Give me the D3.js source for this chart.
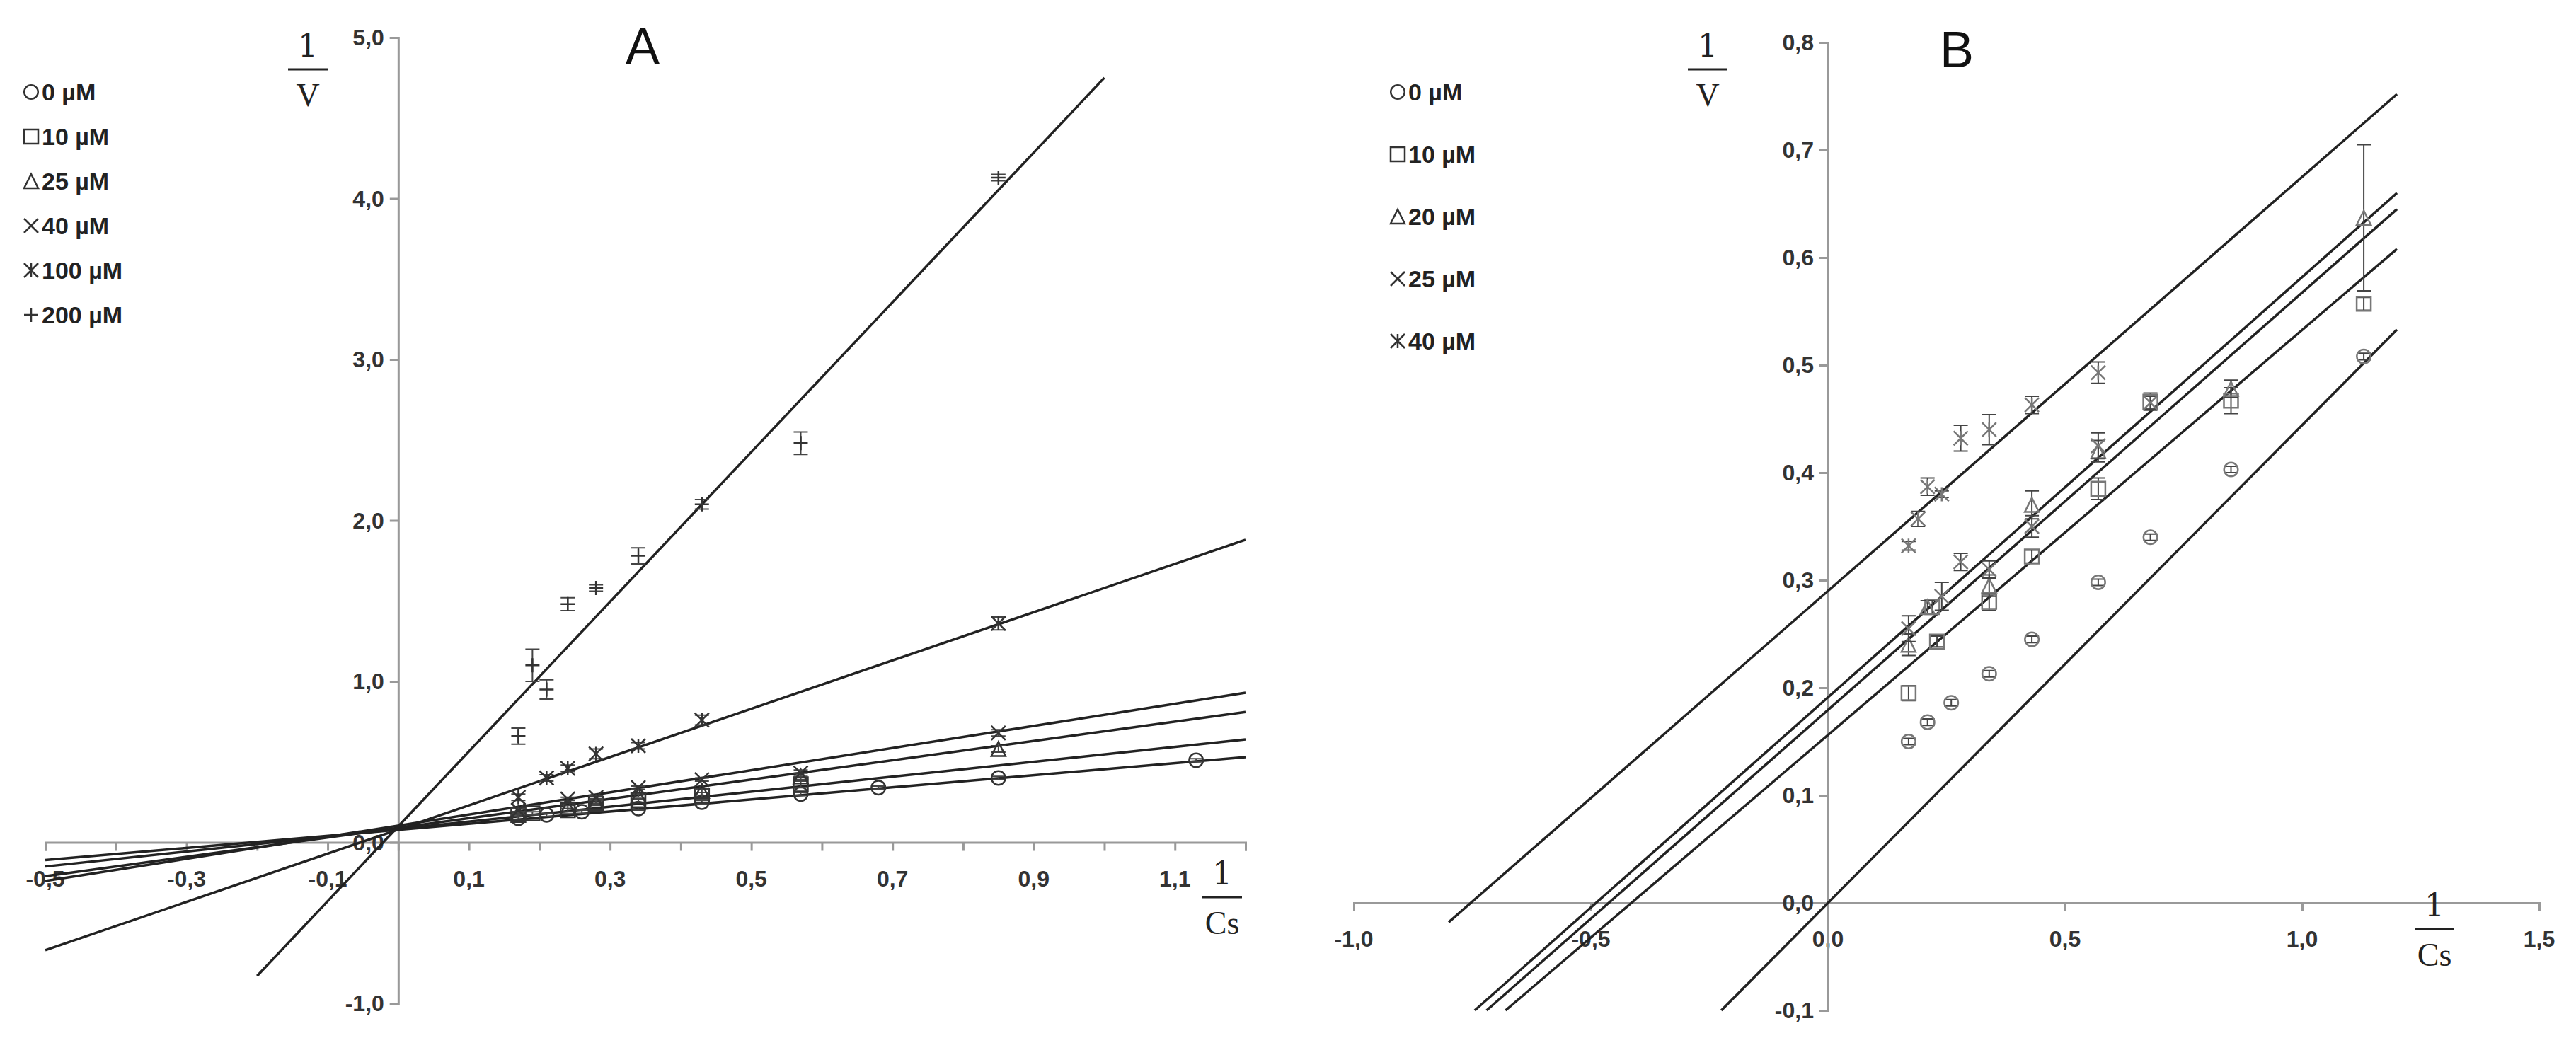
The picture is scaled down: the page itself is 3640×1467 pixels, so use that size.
<!DOCTYPE html>
<html><head><meta charset="utf-8">
<script src="https://cdnjs.cloudflare.com/ajax/libs/d3/7.8.5/d3.min.js"></script>
<style>body{margin:0;background:#fff}svg{display:block}</style>
</head><body><svg id="chart" width="3640" height="1467"></svg>
<script>
// Panel A data (x = 1/Cs, y = 1/V, e = error)
const seriesA = [
  {name: "0 µM", sym: "circle", pts: [[0.17,0.15],[0.21,0.17],[0.26,0.19],[0.34,0.21],[0.43,0.25],[0.57,0.30],[0.68,0.34],[0.85,0.40],[1.13,0.51]]},
  {name: "10 µM", sym: "square", pts: [[0.17,0.17],[0.19,0.18],[0.24,0.20],[0.28,0.24],[0.34,0.26],[0.43,0.29],[0.57,0.36]]},
  {name: "25 µM", sym: "triangle", pts: [[0.17,0.18],[0.24,0.22],[0.28,0.25],[0.34,0.29],[0.43,0.32],[0.57,0.41],[0.85,0.58]]},
  {name: "40 µM", sym: "x", pts: [[0.17,0.20],[0.24,0.27],[0.28,0.28],[0.34,0.34],[0.43,0.39],[0.57,0.43],[0.85,0.68]]},
  {name: "100 µM", sym: "star", pts: [[0.17,0.28],[0.21,0.40],[0.24,0.46],[0.28,0.55],[0.34,0.60],[0.43,0.76],[0.85,1.36]]},
  {name: "200 µM", sym: "plus", pts: [[0.17,0.66],[0.19,1.10],[0.21,0.95],[0.24,1.48],[0.28,1.58],[0.34,1.78],[0.43,2.10],[0.57,2.48],[0.85,4.13]]}
];
const errA = [
  [0.01,0.01,0.01,0.01,0.01,0.01,0.01,0.01,0.01],
  [0.01,0.01,0.01,0.01,0.01,0.02,0.02],
  [0.01,0.01,0.01,0.01,0.01,0.02,0.02],
  [0.01,0.01,0.01,0.01,0.01,0.02,0.02],
  [0.02,0.02,0.02,0.03,0.02,0.03,0.04],
  [0.05,0.10,0.06,0.04,0.02,0.05,0.03,0.07,0.02]
];
// fitted lines [x0, y0, x1, y1]
const linesA = [[-0.5,-0.11,1.2,0.53],[-0.5,-0.15,1.2,0.64],[-0.5,-0.21,1.2,0.81],[-0.5,-0.24,1.2,0.93],[-0.5,-0.67,1.2,1.88],[-0.2,-0.83,1.0,4.75]];
const xTicksA = [-0.5,-0.3,-0.1,0.1,0.3,0.5,0.7,0.9,1.1];
const yTicksA = [-1,0,1,2,3,4,5];

// Panel B data
const seriesB = [
  {name: "0 µM", sym: "circle", pts: [[0.17,0.150],[0.21,0.168],[0.26,0.186],[0.34,0.213],[0.43,0.245],[0.57,0.298],[0.68,0.340],[0.85,0.403],[1.13,0.508]]},
  {name: "10 µM", sym: "square", pts: [[0.17,0.195],[0.22,0.275],[0.23,0.243],[0.34,0.280],[0.43,0.322],[0.57,0.385],[0.68,0.466],[0.85,0.467],[1.13,0.557]]},
  {name: "20 µM", sym: "triangle", pts: [[0.17,0.240],[0.21,0.275],[0.34,0.295],[0.43,0.370],[0.57,0.420],[0.85,0.478],[1.13,0.637]]},
  {name: "25 µM", sym: "x", pts: [[0.17,0.255],[0.24,0.285],[0.28,0.317],[0.34,0.310],[0.43,0.350],[0.57,0.425],[0.68,0.465]]},
  {name: "40 µM", sym: "star", pts: [[0.17,0.332],[0.19,0.357],[0.21,0.387],[0.24,0.380],[0.28,0.432],[0.34,0.440],[0.43,0.463],[0.57,0.493]]}
];
const errB = [
  [0.003,0.003,0.003,0.003,0.003,0.003,0.003,0.003,0.003],
  [0.007,0.006,0.005,0.008,0.006,0.010,0.008,0.012,0.006],
  [0.010,0.006,0.010,0.013,0.010,0.008,0.068],
  [0.012,0.013,0.008,0.008,0.010,0.012,0.006],
  [0.004,0.007,0.008,0.003,0.012,0.014,0.008,0.010]
];
const linesB = [[-0.225,-0.1,1.2,0.533],[-0.68,-0.1,1.2,0.608],[-0.72,-0.1,1.2,0.645],[-0.745,-0.1,1.2,0.66],[-0.80,-0.018,1.2,0.752]];
const xTicksB = [-1.0,-0.5,0.0,0.5,1.0,1.5];
const yTicksB = [-0.1,0,0.1,0.2,0.3,0.4,0.5,0.6,0.7,0.8];

const svg = d3.select("#chart");
const fmt = (d, p) => d.toFixed(p).replace(".", ",");
const font = "Arial, 'Liberation Sans', sans-serif";

function symbolPath(sym, s) {
  const h = s / 2;
  if (sym === "circle") return d3.symbol(d3.symbolCircle, s * s * 0.75)();
  if (sym === "square") return `M${-h},${-h}H${h}V${h}H${-h}Z`;
  if (sym === "triangle") return `M0,${-h}L${h},${h}L${-h},${h}Z`;
  if (sym === "x") return `M${-h},${-h}L${h},${h}M${-h},${h}L${h},${-h}`;
  if (sym === "plus") return `M${-h},0H${h}M0,${-h}V${h}`;
  return `M${-h},${-h}L${h},${h}M${-h},${h}L${h},${-h}M0,${-h}V${h}`;
}

function panel(cfg) {
  const g = svg.append("g");
  const x = d3.scaleLinear().domain(cfg.xd).range(cfg.xr);
  const y = d3.scaleLinear().domain(cfg.yd).range(cfg.yr);
  const axCol = "#999";

  // x axis along y=0
  const xa = g.append("g").attr("transform", `translate(0,${y(0)})`)
    .call(d3.axisBottom(x).tickValues(cfg.xTickMarks).tickSize(12).tickFormat(""));
  xa.select(".domain").attr("stroke", axCol).attr("stroke-width", 3);
  xa.selectAll(".tick line").attr("stroke", axCol).attr("stroke-width", 3);
  g.selectAll(".xl").data(cfg.xTicks).join("text")
    .attr("x", d => x(d)).attr("y", y(0) + 62).attr("text-anchor", "middle")
    .attr("font-family", font).attr("font-weight", "bold").attr("font-size", 32).attr("fill", "#333")
    .text(d => fmt(d, 1));

  // y axis along x=0
  const ya = g.append("g").attr("transform", `translate(${x(0)},0)`)
    .call(d3.axisLeft(y).tickValues(cfg.yTicks).tickSize(12).tickFormat(""));
  ya.select(".domain").attr("stroke", axCol).attr("stroke-width", 3);
  ya.selectAll(".tick line").attr("stroke", axCol).attr("stroke-width", 3);
  g.selectAll(".yl").data(cfg.yTicks).join("text")
    .attr("x", x(0) - 20).attr("y", d => y(d) + 11).attr("text-anchor", "end")
    .attr("font-family", font).attr("font-weight", "bold").attr("font-size", 32).attr("fill", "#333")
    .text(d => fmt(d, 1));

  // fit lines
  g.selectAll(".fit").data(cfg.lines).join("line")
    .attr("x1", d => x(d[0])).attr("y1", d => y(d[1])).attr("x2", d => x(d[2])).attr("y2", d => y(d[3]))
    .attr("stroke", "#222").attr("stroke-width", 3.5);

  // points with error bars
  cfg.series.forEach((s, i) => {
    const sg = g.append("g");
    s.pts.forEach((p, j) => {
      const e = cfg.err[i][j];
      const px = x(p[0]);
      sg.append("path")
        .attr("d", `M${px},${y(p[1] - e)}V${y(p[1] + e)}M${px - 10},${y(p[1] - e)}H${px + 10}M${px - 10},${y(p[1] + e)}H${px + 10}`)
        .attr("stroke", "#444").attr("stroke-width", 2).attr("fill", "none");
      sg.append("path").attr("transform", `translate(${px},${y(p[1])})`)
        .attr("d", symbolPath(s.sym, 20))
        .attr("fill", "none").attr("stroke", cfg.markCol).attr("stroke-width", 2.5);
    });
  });

  // legend
  cfg.series.forEach((s, i) => {
    const ly = cfg.legY + i * cfg.legStep;
    g.append("path").attr("transform", `translate(${cfg.legX},${ly})`)
      .attr("d", symbolPath(s.sym, 20)).attr("fill", "none").attr("stroke", "#333").attr("stroke-width", 2.5);
    g.append("text").attr("x", cfg.legX + 15).attr("y", ly + 12)
      .attr("font-family", font).attr("font-weight", "bold").attr("font-size", 34).attr("fill", "#222").text(s.name);
  });

  // fraction labels
  const frac = (fx, fy, den) => {
    g.append("text").attr("x", fx).attr("y", fy).attr("text-anchor", "middle")
      .attr("font-family", "'DejaVu Serif', 'Liberation Serif', serif").attr("font-size", 44).attr("fill", "#222").text("1");
    g.append("line").attr("x1", fx - 28).attr("x2", fx + 28).attr("y1", fy + 18).attr("y2", fy + 18)
      .attr("stroke", "#222").attr("stroke-width", 3);
    g.append("text").attr("x", fx).attr("y", fy + 70).attr("text-anchor", "middle")
      .attr("font-family", "'Liberation Serif', serif").attr("font-size", 46).attr("fill", "#222").text(den);
  };
  frac(cfg.vLab[0], cfg.vLab[1], "V");
  frac(cfg.cLab[0], cfg.cLab[1], "Cs");

  g.append("text").attr("x", cfg.title[0]).attr("y", cfg.title[1]).attr("text-anchor", "middle")
    .attr("font-family", font).attr("font-size", 72).attr("fill", "#111").text(cfg.name);
}

panel({
  name: "A", series: seriesA, err: errA, lines: linesA, markCol: "#333",
  xd: [-0.5, 1.2], xr: [64, 1760], yd: [-1, 5], yr: [1418, 53],
  xTicks: xTicksA, xTickMarks: d3.range(-5, 13).map(d => d / 10),
  yTicks: yTicksA, legX: 44, legY: 130, legStep: 63,
  vLab: [435, 80], cLab: [1727, 1250], title: [908, 90]
});

panel({
  name: "B", series: seriesB, err: errB, lines: linesB, markCol: "#777",
  xd: [-1.0, 1.5], xr: [1913, 3588], yd: [-0.1, 0.8], yr: [1428, 60],
  xTicks: xTicksB, xTickMarks: xTicksB,
  yTicks: yTicksB, legX: 1975, legY: 130, legStep: 88,
  vLab: [2413, 80], cLab: [3440, 1295], title: [2765, 95]
});
</script></body></html>
